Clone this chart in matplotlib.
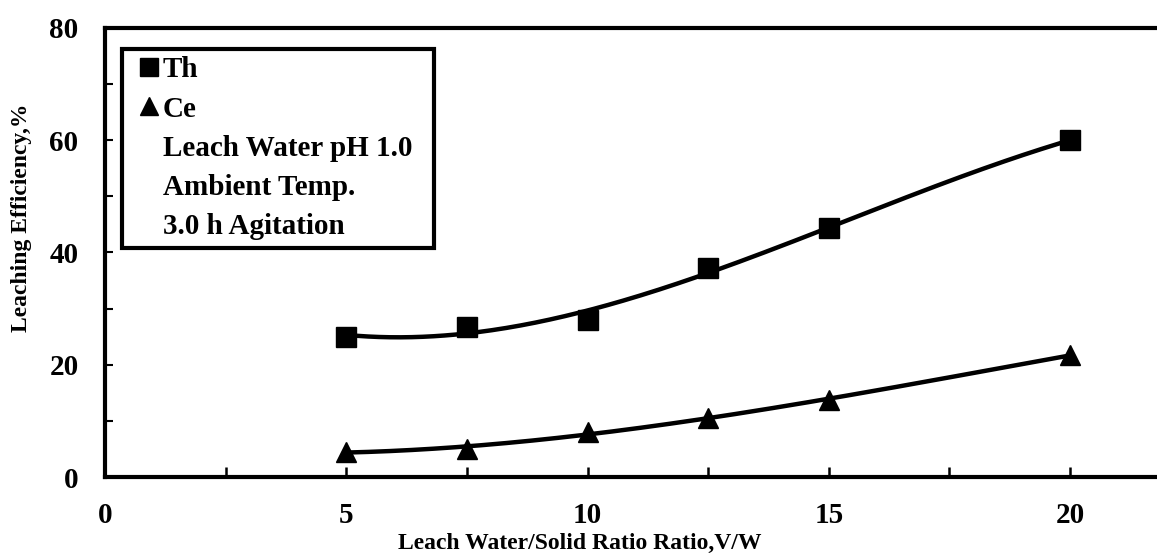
import numpy as np
import matplotlib
matplotlib.use("Agg")
import matplotlib.pyplot as plt
from matplotlib.lines import Line2D

plt.rcParams["font.family"] = "Liberation Serif"
plt.rcParams["font.weight"] = "bold"

ratio = [5, 7.5, 10, 12.5, 15, 20]
th_eff = [25.0, 26.8, 28.0, 37.3, 44.3, 60.0]
ce_eff = [4.5, 5.0, 8.0, 10.5, 13.8, 21.7]

fig = plt.figure(figsize=(11.57, 5.6), dpi=100)
ax = fig.add_axes([105 / 1157, 1 - 477 / 560, 1 - 105 / 1157, 449 / 560])

# 3rd order trendlines, like the spreadsheet did
xs = np.linspace(min(ratio), max(ratio), 200)
for y in (th_eff, ce_eff):
    coef = np.polyfit(ratio, y, 3)
    ax.plot(xs, np.polyval(coef, xs), color="black", lw=3.2, zorder=2)

ax.plot(ratio, th_eff, "s", color="black", ms=14, ls="none", zorder=3)
ax.plot(ratio, ce_eff, "^", color="black", ms=14, ls="none", zorder=3)

ax.set_xlim(0, 21.8)
ax.set_ylim(0, 80)
ax.set_xticks([0, 5, 10, 15, 20])
ax.set_xticks(np.arange(2.5, 21, 5), minor=True)
ax.set_yticks([0, 20, 40, 60, 80])
ax.set_yticks(np.arange(10, 80, 20), minor=True)
ax.tick_params(axis="x", which="both", direction="in", length=7, width=1.8, pad=18, labelsize=21)
ax.tick_params(axis="y", which="both", direction="in", length=6, width=1.5, pad=19, labelsize=21)

for s in ("left", "bottom", "top"):
    ax.spines[s].set_linewidth(3)
ax.spines["right"].set_visible(False)

fig.text(22 / 1157, 1 - 218 / 560, "Leaching Efficiency,%", rotation=90,
         ha="center", va="center", fontsize=17, fontweight="bold")
fig.text(580 / 1157, 1 - 543 / 560, "Leach Water/Solid Ratio Ratio,V/W",
         ha="center", va="center", fontsize=17, fontweight="bold")

blank = Line2D([], [], ls="none", marker="")
handles = [
    Line2D([], [], ls="none", marker="s", color="black", ms=13),
    Line2D([], [], ls="none", marker="^", color="black", ms=13),
    blank, blank, blank,
]
# trailing spaces give the box its right margin
labels = ["Th", "Ce", "Leach Water pH 1.0  ", "Ambient Temp.", "3.0 h Agitation"]
leg = ax.legend(handles, labels, loc="upper left", bbox_to_anchor=(0.016, 0.953),
                fontsize=21, handlelength=1.35, handletextpad=-0.2,
                labelspacing=0.42, borderpad=0.25, borderaxespad=0,
                fancybox=False, framealpha=1, edgecolor="black")
leg.get_frame().set_linewidth(3)

fig.savefig("out.png", dpi=100)
